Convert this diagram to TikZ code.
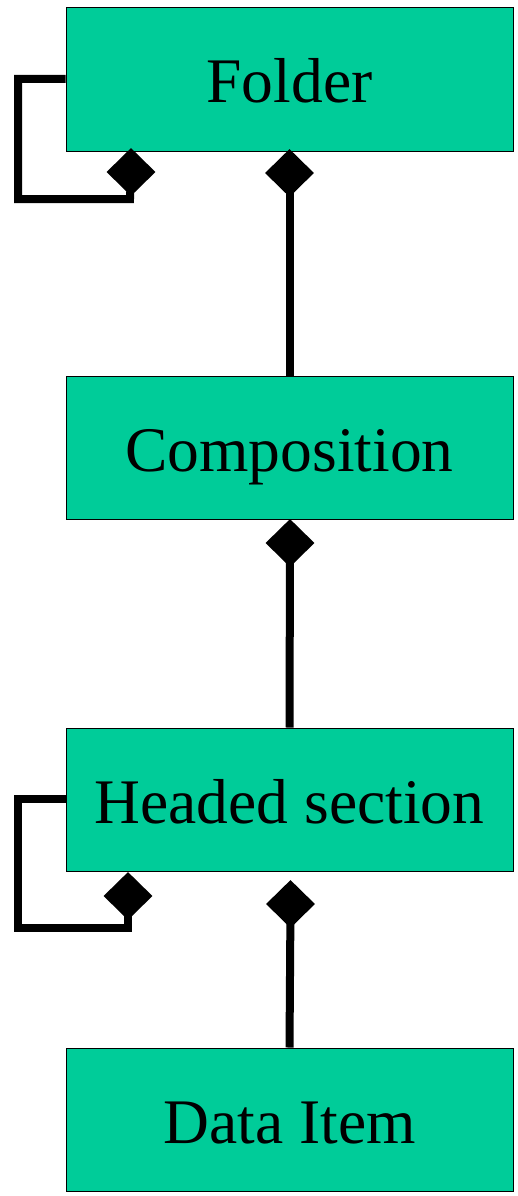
\documentclass[tikz,border=0pt]{standalone}
\usepackage{fontspec}
\setmainfont{Liberation Serif}
\usetikzlibrary{shapes.geometric}
\definecolor{boxgreen}{RGB}{0,204,153}
\tikzset{
  classbox/.style={draw=black, line width=1pt, fill=boxgreen, minimum width=447pt, minimum height=143pt, inner sep=0pt},
  classtext/.style={font=\fontsize{63.5}{70}\selectfont, inner sep=0pt, anchor=base},
  comp/.style={diamond, fill=black, draw=none, minimum width=49pt, minimum height=48pt, inner sep=0pt},
  link/.style={line width=8pt, draw=black, line join=miter}
}
\begin{document}
\begin{tikzpicture}[x=1pt,y=-1pt]
\useasboundingbox (0,0) rectangle (517,1196);
\node[classbox] (folder) at (289.5,79.5) {};
\node[classbox] (comp) at (289.5,447.5) {};
\node[classbox] (head) at (289.5,799.5) {};
\node[classbox] (data) at (289.5,1119.5) {};
\node[classtext] (tfolder) at ([yshift=-23.5pt]folder.center) {Folder};
\node[classtext] (tcomp) at ([yshift=-24pt]comp.center) {Composition};
\node[classtext] (thead) at ([yshift=-24pt]head.center) {Headed section};
\node[classtext] (tdata) at ([yshift=-23.5pt]data.center) {Data Item};
% diamonds
\node[comp] (dF1) at (131,172) {};
\node[comp] (dF2) at (289.5,173) {};
\node[comp] (dC) at (290,543) {};
\node[comp] (dH1) at (128,896) {};
\node[comp] (dH2) at (290.5,904) {};
% connectors
\draw[link] (dF2.center) -- (comp.north);
\draw[link] (dC.center) -- (head.north);
\draw[link] (dH2.center) -- (data.north);
\coordinate (fl1) at (18,79);
\coordinate (fl2) at (18,199);
\coordinate (fl3) at (130,199);
\draw[link] (folder.west |- fl1) -- (fl1) -- (fl2) -- (fl3) -- (dF1.center);
\coordinate (hl1) at (18,799);
\coordinate (hl2) at (18,928);
\coordinate (hl3) at (128,928);
\draw[link] (head.west |- hl1) -- (hl1) -- (hl2) -- (hl3) -- (dH1.center);
\end{tikzpicture}
\end{document}
